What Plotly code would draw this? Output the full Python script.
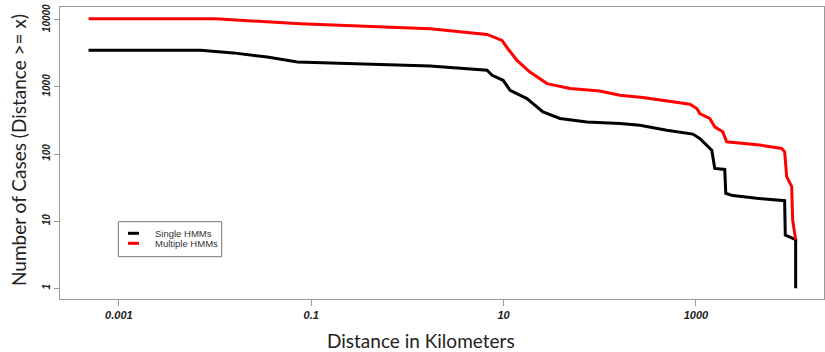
import plotly.graph_objects as go

# ---- data ----
single_km = [0.000484, 0.00705, 0.0155, 0.035, 0.0718, 0.255, 0.84, 1.73, 6.74, 7.6, 9.9,
             11.7, 17.5, 25.7, 38.6, 73.6, 162, 261, 499, 929, 1096, 1462, 1571,
             1995, 2046, 2417, 4289, 8370, 8500, 10900, 10900]
single_cases = [3500, 3500, 3210, 2780, 2344, 2220, 2150, 2045, 1766, 1487, 1253,
                891, 670, 424, 338, 301, 285, 269, 226, 198, 171, 114, 61,
                59, 26, 24, 21.9, 20.2, 6.2, 5.3, 1]

multi_km = [0.000484, 0.0101, 0.0771, 0.84, 1.73, 6.74, 9.64, 11.1, 13.8, 18.8, 28.3,
            49.1, 100, 162, 281, 865, 1023, 1096, 1393, 1571, 1901, 2091, 4603,
            7800, 8370, 8790, 9910, 10140, 10900]
multi_cases = [10350, 10350, 8720, 7760, 7350, 6050, 4920, 3700, 2480, 1664, 1119,
               944, 869, 750, 693, 551, 476, 401, 338, 254, 214, 152, 136,
               121, 108, 46, 32.6, 10.4, 5.3]

series_names = ["Single HMMs", "Multiple HMMs"]
series_colors = ["#000000", "#ff0000"]

x_tickvals = [0.001, 0.1, 10, 1000]
x_ticktext = ["0.001", "0.1", "10", "1000"]
y_tickvals = [1, 10, 100, 1000, 10000]
y_ticktext = ["1", "10", "100", "1000", "10000"]

x_title = "Distance in Kilometers"
y_title = "Number of Cases (Distance >= x)"

# ---- figure ----
W, H = 825, 352
L, R, T, B = 60, 1, 7, 53
pw, ph = W - L - R, H - T - B


def px2paper(px, py):
    return (px - L) / pw, (H - B - py) / ph


fig = go.Figure()
for xs, ys, name, col in [(single_km, single_cases, series_names[0], series_colors[0]),
                          (multi_km, multi_cases, series_names[1], series_colors[1])]:
    fig.add_trace(go.Scatter(x=xs, y=ys, mode="lines", name=name,
                             line=dict(color=col, width=3), showlegend=False))

box_col = "#9a9a9a"
tick_font = dict(family="Liberation Sans, Arial, sans-serif", size=11, color="#222",
                 weight="bold", style="italic")

fig.update_layout(
    width=W, height=H,
    margin=dict(l=L, r=R, t=T, b=B, pad=0, autoexpand=False),
    paper_bgcolor="white", plot_bgcolor="white",
    xaxis=dict(type="log", range=[-3.612, 4.332], tickvals=x_tickvals, ticktext=x_ticktext,
               ticks="outside", ticklen=6, tickcolor=box_col, tickwidth=1, automargin=False,
               showline=True, mirror=True, linecolor=box_col, linewidth=1,
               showgrid=False, zeroline=False, tickfont=tick_font),
    yaxis=dict(type="log", range=[-0.16, 4.19], tickvals=y_tickvals, ticktext=y_ticktext,
               ticks="outside", ticklen=5, tickcolor=box_col, tickwidth=1, tickangle=-90,
               automargin=False,
               showline=True, mirror=True, linecolor=box_col, linewidth=1,
               showgrid=False, zeroline=False,
               tickfont=dict(tick_font, size=10)),
)

title_font = dict(family="Lato, Open Sans, sans-serif", size=19, color="#222")
ax, ay = px2paper(421, 340)
fig.add_annotation(text=x_title, x=ax, y=ay, xref="paper", yref="paper",
                   showarrow=False, font=title_font, xanchor="center", yanchor="middle")
ax, ay = px2paper(18, 150)
fig.add_annotation(text=y_title, x=ax, y=ay, xref="paper", yref="paper",
                   showarrow=False, font=title_font, textangle=-90,
                   xanchor="center", yanchor="middle")

# manual legend box
x0, y0 = px2paper(118.3, 256.7)
x1, y1 = px2paper(221.7, 221.7)
fig.add_shape(type="rect", xref="paper", yref="paper", x0=x0, y0=y0, x1=x1, y1=y1,
              line=dict(color="#777", width=1), fillcolor="white")
for i, (name, col) in enumerate(zip(series_names, series_colors)):
    py = 233.3 + 10 * i
    lx0, ly = px2paper(128, py)
    lx1, _ = px2paper(139, py)
    fig.add_shape(type="line", xref="paper", yref="paper", x0=lx0, x1=lx1, y0=ly, y1=ly,
                  line=dict(color=col, width=3))
    tx, _ = px2paper(152.7, py)
    fig.add_annotation(text=name, x=tx, y=ly, xref="paper", yref="paper", showarrow=False,
                       xanchor="left", yanchor="middle",
                       font=dict(family="Liberation Sans, Arial, sans-serif", size=9.5,
                                 color="#333"))

fig.write_html("out.html", config={"displayModeBar": False},
               post_script="document.body.style.margin='0';document.body.style.overflow='hidden';")
